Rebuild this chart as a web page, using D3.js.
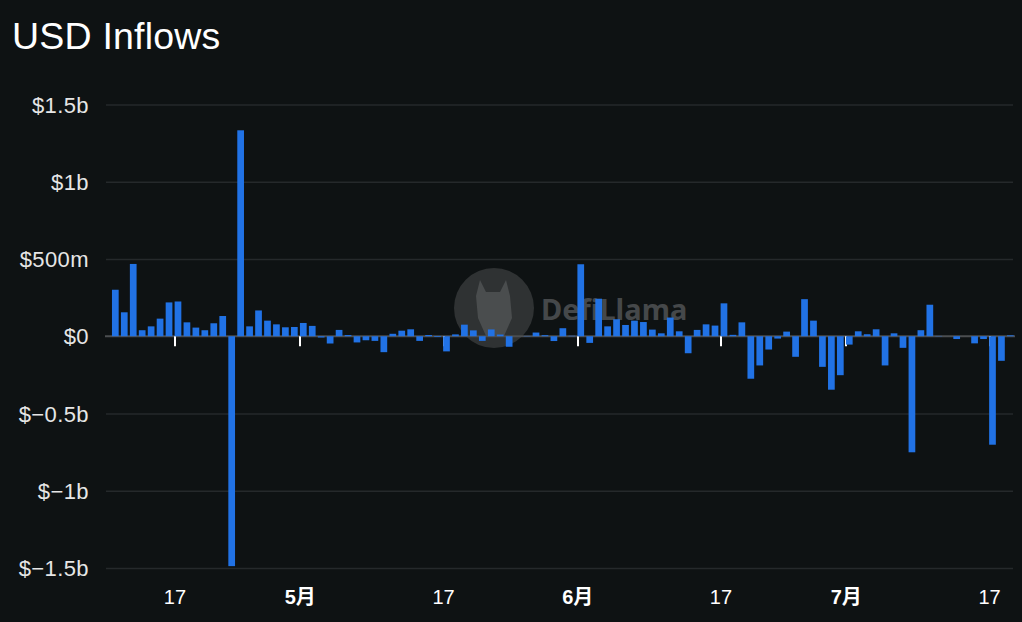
<!DOCTYPE html>
<html><head><meta charset="utf-8">
<script src="https://cdn.jsdelivr.net/npm/d3@7"></script>
<style>
html,body{margin:0;padding:0;background:#0e1213;}
svg{display:block;}
</style></head><body>
<svg id="chart" width="1022" height="622"></svg>
<script>
// ---- data ----
const firstDay = "2024-04-10";
const lastDay = "2024-07-19";
// daily USD inflows in millions, Apr 10 .. Jul 19
const inflowsM = [
  301, 155, 468, 39, 64, 114, 219, 225, 90, 56,
  39, 84, 131, -1488, 1333, 64, 167, 101, 77, 58,
  60, 86, 67, -8, -47, 41, 8, -40, -26, -30,
  -103, 16, 36, 45, -30, 8, -5, -98, 12, 75,
  38, -30, 44, 11, -68, 0, 2, 24, 7, -31,
  52, 3, 466, -43, 243, 64, 110, 73, 101, 92,
  43, 19, 121, 32, -110, 41, 77, 69, 213, 9,
  90, -275, -189, -86, -15, 30, -133, 240, 101, -198,
  -346, -252, -54, 32, 13, 45, -189, 19, -75, -751,
  39, 204, 2, 0, -18, 0, -46, -18, -702, -159,
  6
];
const xTickDates = ["2024-04-17","2024-05-01","2024-05-17","2024-06-01","2024-06-17","2024-07-01","2024-07-17"];
const xTickLabels = ["17","5月","17","6月","17","7月","17"];
const xTickBold = [false,true,false,true,false,true,false];
const yTickValues = [-1.5e9,-1e9,-0.5e9,0,0.5e9,1e9,1.5e9];
const yTickLabels = ["$−1.5b","$−1b","$−0.5b","$0","$500m","$1b","$1.5b"];
const titleText = "USD Inflows";

// ---- build ----
const parse = d3.utcParse("%Y-%m-%d");
const days = d3.utcDay.range(parse(firstDay), d3.utcDay.offset(parse(lastDay), 1));
const data = days.map((d, i) => ({date: d, value: inflowsM[i] * 1e6}));
const tzShift = 8 * 3600 * 1000; // axis labelled in UTC+8

const svg = d3.select("#chart");
const W = 1022, H = 622;
svg.append("rect").attr("width", W).attr("height", H).attr("fill", "#0e1213");

const plotLeft = 106, plotRight = 1013;
const x = d3.scaleUtc()
  .domain([new Date(Date.UTC(2024,3,8,23)), new Date(Date.UTC(2024,6,19,7))])
  .range([plotLeft, plotRight]);
const y = d3.scaleLinear().domain([-1.5e9, 1.5e9]).range([568, 104.5]);

const font = "'Liberation Sans', 'Noto Sans CJK SC', Arial, sans-serif";

// title
svg.append("text").attr("x", 12).attr("y", 49)
  .attr("fill", "#ffffff").attr("font-family", font)
  .attr("font-size", 37.5).attr("letter-spacing", 0.2).text(titleText);

// grid lines + y labels
const yAxis = d3.axisLeft(y).tickValues(yTickValues)
  .tickSize(-(plotRight - plotLeft)).tickFormat((d, i) => yTickLabels[i]);
const gy = svg.append("g").attr("transform", `translate(${plotLeft},0)`).call(yAxis);
gy.select(".domain").remove();
gy.selectAll(".tick line").attr("stroke", "#25292b").attr("stroke-width", 1.3)
  .filter(d => d === 0).remove();
gy.selectAll(".tick text").attr("x", -17).attr("fill", "#e6e6e6")
  .attr("font-family", font).attr("font-size", 22).attr("letter-spacing", 0.4)
  .attr("dy", "0.35em");

// watermark
const wm = svg.append("g");
wm.append("circle").attr("cx", 494).attr("cy", 308).attr("r", 40).attr("fill", "#2f3233");
wm.append("path")
  .attr("d", "M476,296 L480,280 L486,292 L500,292 L506,280 L510,296 L512,318 L504,336 L486,336 L478,318 Z")
  .attr("fill", "#4a4d4e");
wm.append("text").attr("x", 541).attr("y", 320).attr("fill", "#45484a")
  .attr("font-family", "'Noto Sans', 'Open Sans', sans-serif").attr("font-weight", 700)
  .attr("font-size", 29).text("DefiLlama");

// zero line
svg.append("line").attr("x1", plotLeft - 1).attr("x2", plotRight + 2)
  .attr("y1", y(0)).attr("y2", y(0)).attr("stroke", "#4b4e50").attr("stroke-width", 2);

// x ticks + labels
const tickTimes = xTickDates.map(s => new Date(parse(s).getTime() - tzShift));
const gx = svg.append("g");
gx.selectAll("line.tk").data(tickTimes).join("line").attr("class", "tk")
  .attr("x1", d => Math.round(x(d))).attr("x2", d => Math.round(x(d)))
  .attr("y1", y(0)).attr("y2", y(0) + 10)
  .attr("stroke", "#ffffff").attr("stroke-width", 2);
gx.selectAll("text").data(tickTimes).join("text")
  .attr("x", d => x(d)).attr("y", 604).attr("text-anchor", "middle")
  .attr("fill", "#ffffff").attr("font-family", font).attr("font-size", 20)
  .attr("font-weight", (d, i) => xTickBold[i] ? 700 : 400)
  .text((d, i) => xTickLabels[i]);

// bars
const dayW = x(new Date(Date.UTC(2024,3,11))) - x(new Date(Date.UTC(2024,3,10)));
const bw = dayW * 0.75;
svg.append("g").selectAll("rect").data(data).join("rect")
  .attr("x", d => x(d.date) - bw / 2)
  .attr("width", bw)
  .attr("y", d => y(Math.max(0, d.value)))
  .attr("height", d => Math.abs(y(d.value) - y(0)))
  .attr("fill", "#2172e5");
</script>
</body></html>
